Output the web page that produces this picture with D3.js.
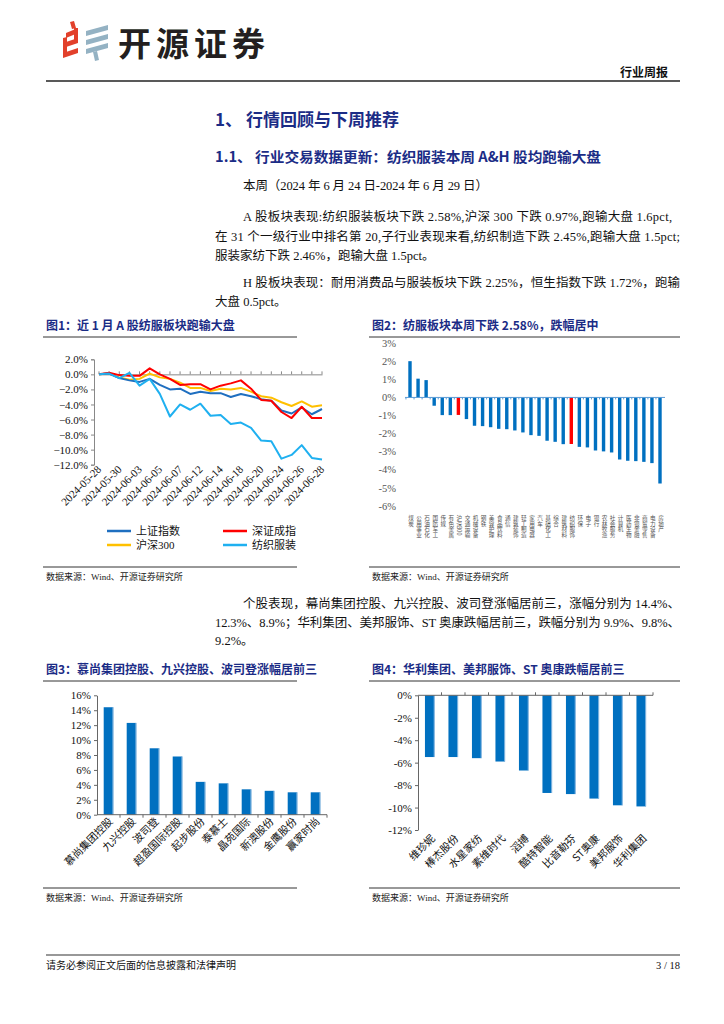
<!DOCTYPE html>
<html>
<head>
<meta charset="utf-8">
<script src="https://cdn.jsdelivr.net/npm/d3@7"></script>
<style>
  body { margin: 0; background: #fff; }
  svg { display: block; }
  .serif { font-family: "Liberation Serif", "Noto Sans CJK SC", serif; }
  .cjk { font-family: "Noto Sans CJK SC", sans-serif; }
</style>
</head>
<body>
<svg id="page" width="724" height="1024"></svg>
<script>
// ---- data ----
var dates = ["2024-05-28","2024-05-29","2024-05-30","2024-05-31","2024-06-03","2024-06-04","2024-06-05",
  "2024-06-06","2024-06-07","2024-06-11","2024-06-12","2024-06-13","2024-06-14","2024-06-17","2024-06-18",
  "2024-06-19","2024-06-20","2024-06-21","2024-06-24","2024-06-25","2024-06-26","2024-06-27","2024-06-28"];
var dateTicks = ["2024-05-28","2024-05-30","2024-06-03","2024-06-05","2024-06-07","2024-06-12",
  "2024-06-14","2024-06-18","2024-06-20","2024-06-24","2024-06-26","2024-06-28"];
var shIndex  = [0,0.1,-0.5,-0.8,-1.0,-0.6,-1.4,-2.0,-1.9,-2.6,-2.3,-2.5,-2.5,-3.0,-2.6,-2.9,-3.3,-3.5,-4.8,-5.2,-4.4,-5.3,-4.6];
var szIndex  = [0,0.2,-0.1,-0.2,-0.2,0.8,0.0,-0.6,-1.4,-1.3,-1.3,-2.0,-1.5,-1.2,-0.8,-1.9,-3.4,-3.5,-5.0,-5.8,-4.3,-5.8,-5.8];
var hs300    = [0,0.1,-0.4,-0.7,-0.6,0.1,-0.4,-0.6,-1.1,-1.8,-1.8,-2.2,-1.9,-2.0,-1.8,-2.3,-2.9,-3.1,-3.7,-4.2,-3.6,-4.3,-4.1];
var textile  = [0,0.1,-0.5,0.2,-1.5,-0.6,-2.6,-5.6,-4.0,-4.7,-3.9,-5.5,-5.4,-6.6,-6.4,-7.1,-8.8,-8.9,-11.2,-10.7,-9.4,-11.1,-11.3];
var lineNames = ["上证指数","深证成指","沪深300","纺织服装"];
var lineColors = ["#1f6fc0","#ff0000","#ffc000","#1fb0f0"];

var industries = ["煤炭","公用事业","石油石化","国防军工","传媒","有色金属","沪深300","交通运输","机械设备","钢铁",
  "美容护理","食品饮料","通信","建筑装饰","轻工制造","家用电器","汽车","基础化工","综合","建筑材料","纺织服饰",
  "环保","电子","银行","农林牧渔","社会服务","计算机","医药生物","非银金融","商贸零售","电力设备","房地产"];
var industryChg = [2.01,1.04,0.96,-0.46,-0.98,-0.98,-0.97,-1.2,-1.57,-1.59,-1.65,-1.74,-1.76,-1.83,-1.94,-2.09,
  -2.13,-2.4,-2.46,-2.59,-2.58,-2.74,-2.77,-2.94,-2.99,-3.05,-3.44,-3.51,-3.53,-3.57,-3.64,-4.77];
var highlight = ["沪深300","纺织服饰"];

var gainers = ["慕尚集团控股","九兴控股","波司登","超盈国际控股","起步股份","泰慕士","晶苑国际","新澳股份","金鹰股份","赢家时尚"];
var gainerChg = [14.4,12.3,8.9,7.8,4.4,4.2,3.4,3.2,3.0,3.0];
var losers = ["维珍妮","棒杰股份","水星家纺","素维时代","滔搏","酷特智能","比音勒芬","ST奥康","美邦服饰","华利集团"];
var loserChg = [-5.5,-5.5,-5.6,-5.9,-6.7,-8.7,-8.8,-9.2,-9.8,-9.9];

var svg = d3.select("#page");
var navy = "#1b2c86";
var barBlue = "#0070c0";

// ---- header ----
var logo = svg.append("g");
var red = "#e2402b", grey = "#94b2c3";
[[66,33,78,28],[63,43,78,38],[63,53,78,48]].forEach(function (s) {
  logo.append("polygon").attr("fill", red)
    .attr("points", [s[0],s[1], s[2],s[3], s[2],s[3]+5, s[0],s[1]+5].join(" "));
});
logo.append("polygon").attr("fill", red).attr("points", "74,28 78,28 78,43 74,43");
logo.append("polygon").attr("fill", red).attr("points", "63,38 67,37 67,53 63,53");
logo.append("polygon").attr("fill", red).attr("points", "70,22 74,21 76,28 72,29");
[[86,31,108,25],[86,40,108,34],[86,49,108,43]].forEach(function (s) {
  logo.append("polygon").attr("fill", grey)
    .attr("points", [s[0],s[1], s[2],s[3], s[2],s[3]+5, s[0],s[1]+5].join(" "));
});
logo.append("polygon").attr("fill", grey).attr("points", "93,52 97,51 99,60 95,61");
svg.append("text").attr("class", "cjk").attr("x", 118).attr("y", 56)
  .attr("font-size", 33).attr("font-weight", 700).attr("letter-spacing", 5).attr("fill", "#231f20")
  .text("开源证券");
svg.append("text").attr("class", "cjk").attr("x", 668).attr("y", 77).attr("text-anchor", "end")
  .attr("font-size", 12).attr("font-weight", 700).attr("fill", "#111").text("行业周报");
svg.append("line").attr("x1", 46).attr("x2", 680).attr("y1", 81).attr("y2", 81)
  .attr("stroke", "#222").attr("stroke-width", 1.5);

// ---- headings and body ----
svg.append("text").attr("class", "cjk").attr("x", 215).attr("y", 126).attr("font-size", 17)
  .attr("font-weight", 700).attr("fill", navy).text("1、 行情回顾与下周推荐");
svg.append("text").attr("class", "cjk").attr("x", 215).attr("y", 162).attr("font-size", 14)
  .attr("font-weight", 700).attr("fill", navy).attr("textLength", 386).attr("lengthAdjust", "spacingAndGlyphs")
  .text("1.1、 行业交易数据更新：纺织服装本周 A&H 股均跑输大盘");

function bodyLine(x, y, str, w) {
  var t = svg.append("text").attr("class", "serif").attr("x", x).attr("y", y)
    .attr("font-size", 12.5).attr("fill", "#111").text(str);
  if (w) t.attr("textLength", w).attr("lengthAdjust", "spacing");
}
bodyLine(243, 190, "本周（2024 年 6 月 24 日-2024 年 6 月 29 日）", 245);
bodyLine(243, 221, "A 股板块表现:纺织服装板块下跌 2.58%,沪深 300 下跌 0.97%,跑输大盘 1.6pct,", 429);
bodyLine(215, 241, "在 31 个一级行业中排名第 20,子行业表现来看,纺织制造下跌 2.45%,跑输大盘 1.5pct;", 465);
bodyLine(215, 260, "服装家纺下跌 2.46%，跑输大盘 1.5pct。");
bodyLine(243, 287, "H 股板块表现：耐用消费品与服装板块下跌 2.25%，恒生指数下跌 1.72%，跑输", 437);
bodyLine(215, 306, "大盘 0.5pct。");
bodyLine(243, 608, "个股表现，幕尚集团控股、九兴控股、波司登涨幅居前三，涨幅分别为 14.4%、", 437);
bodyLine(215, 627, "12.3%、8.9%；华利集团、美邦服饰、ST 奥康跌幅居前三，跌幅分别为 9.9%、9.8%、", 465);
bodyLine(215, 645, "9.2%。");

// ---- figure frames ----
function figTitle(x, y, str, x2) {
  svg.append("text").attr("class", "cjk").attr("x", x).attr("y", y).attr("font-size", 12)
    .attr("font-weight", 700).attr("fill", navy).text(str);
  svg.append("line").attr("x1", x - 3).attr("x2", x2).attr("y1", y + 7).attr("y2", y + 7)
    .attr("stroke", "#333").attr("stroke-width", 1);
}
function figSource(x, y, x2) {
  svg.append("line").attr("x1", x - 3).attr("x2", x2).attr("y1", y - 13).attr("y2", y - 13)
    .attr("stroke", "#333").attr("stroke-width", 1);
  svg.append("text").attr("class", "serif").attr("x", x).attr("y", y).attr("font-size", 9)
    .attr("fill", "#222").text("数据来源：Wind、开源证券研究所");
}
figTitle(46, 330, "图1：近 1 月 A 股纺服板块跑输大盘", 297);
figTitle(372, 330, "图2：纺服板块本周下跌 2.58%，跌幅居中", 680);
figTitle(46, 674, "图3：慕尚集团控股、九兴控股、波司登涨幅居前三", 297);
figTitle(372, 674, "图4：华利集团、美邦服饰、ST 奥康跌幅居前三", 680);
figSource(46, 580, 297);
figSource(372, 580, 680);
figSource(46, 901, 297);
figSource(372, 901, 680);

// ---- figure 1: lines ----
var x1 = d3.scalePoint().domain(dates).range([99, 322]);
var y1 = d3.scaleLinear().domain([-12, 2]).range([464.7, 359.3]);
var f1 = svg.append("g").attr("class", "serif");
f1.append("g").attr("transform", "translate(94,0)")
  .call(d3.axisLeft(y1).tickValues(d3.range(-12, 2.1, 2)).tickFormat(function (d) { return d3.format(".1f")(d) + "%"; }).tickSize(3))
  .call(function (g) {
    g.select(".domain").attr("stroke", "#888");
    g.selectAll(".tick line").attr("stroke", "#888");
    g.selectAll("text").attr("font-size", 11).attr("fill", "#111").attr("font-family", "Liberation Serif");
  });
f1.append("g").attr("transform", "translate(0," + y1(0) + ")")
  .call(d3.axisBottom(x1).tickValues([]).tickSizeOuter(0))
  .call(function (g) { g.select(".domain").attr("stroke", "#888"); });
f1.selectAll(".xtick").data(dates).enter().append("line")
  .attr("x1", function (d) { return x1(d); }).attr("x2", function (d) { return x1(d); })
  .attr("y1", y1(0)).attr("y2", y1(0) - 3).attr("stroke", "#888");
f1.selectAll(".xlab").data(dateTicks).enter().append("text")
  .attr("font-size", 11).attr("fill", "#111").attr("text-anchor", "end")
  .attr("transform", function (d) { return "translate(" + (x1(d) + 3) + ",470) rotate(-45)"; })
  .text(function (d) { return d; });
var series = [shIndex, szIndex, hs300, textile];
var drawOrder = [2, 0, 1, 3];
var line = d3.line().x(function (d, i) { return x1(dates[i]); }).y(function (d) { return y1(d); });
drawOrder.forEach(function (k) {
  f1.append("path").datum(series[k]).attr("d", line).attr("fill", "none")
    .attr("stroke", lineColors[k]).attr("stroke-width", 2).attr("stroke-linejoin", "round");
});
var legPos = [[107, 531], [223, 531], [107, 545], [223, 545]];
lineNames.forEach(function (n, k) {
  var p = legPos[k];
  f1.append("line").attr("x1", p[0]).attr("x2", p[0] + 24).attr("y1", p[1]).attr("y2", p[1])
    .attr("stroke", lineColors[k]).attr("stroke-width", 2.5);
  f1.append("text").attr("x", p[0] + 29).attr("y", p[1] + 4).attr("font-size", 11).attr("fill", "#111").text(n);
});

// ---- figure 2: industry bars ----
var x2 = d3.scalePoint().domain(industries).range([410, 660]);
var y2 = d3.scaleLinear().domain([-6, 3]).range([505.7, 343.3]);
var f2 = svg.append("g").attr("class", "serif");
f2.append("g").attr("transform", "translate(396,0)")
  .call(d3.axisLeft(y2).ticks(9).tickFormat(function (d) { return d + "%"; }).tickSize(0))
  .call(function (g) {
    g.select(".domain").remove();
    g.selectAll("text").attr("font-size", 10.5).attr("fill", "#555").attr("x", 0).attr("font-family", "Liberation Serif");
  });
f2.selectAll(".bar").data(industries).enter().append("rect")
  .attr("x", function (d) { return x2(d) - 1.7; })
  .attr("width", 3.4)
  .attr("y", function (d, i) { return y2(Math.max(0, industryChg[i])); })
  .attr("height", function (d, i) { return Math.abs(y2(industryChg[i]) - y2(0)); })
  .attr("fill", function (d) { return highlight.indexOf(d) >= 0 ? "#ff0000" : barBlue; });
f2.append("line").attr("x1", 405).attr("x2", 665).attr("y1", y2(0)).attr("y2", y2(0))
  .attr("stroke", "#5b9bd5").attr("stroke-width", 1);
f2.selectAll(".t2").data(industries).enter().append("line")
  .attr("x1", function (d) { return x2(d) - x2.step() / 2; }).attr("x2", function (d) { return x2(d) - x2.step() / 2; })
  .attr("y1", y2(0)).attr("y2", y2(0) + 2).attr("stroke", "#5b9bd5");
f2.selectAll(".lab2").data(industries).enter().append("text")
  .attr("class", "cjk")
  .attr("x", function (d) { return x2(d) + 1; }).attr("y", 515)
  .attr("font-size", 5.6).attr("fill", "#555")
  .style("writing-mode", "vertical-rl")
  .text(function (d) { return d; });

// ---- figure 3: gainers ----
var x3 = d3.scaleBand().domain(gainers).range([97, 327]);
var y3 = d3.scaleLinear().domain([0, 16]).range([814.7, 695.3]);
var f3 = svg.append("g").attr("class", "serif");
f3.append("g").attr("transform", "translate(97,0)")
  .call(d3.axisLeft(y3).ticks(8).tickFormat(function (d) { return d + "%"; }).tickSize(3).tickSizeOuter(0))
  .call(function (g) {
    g.select(".domain").attr("stroke", "#666");
    g.selectAll(".tick line").attr("stroke", "#666");
    g.selectAll("text").attr("font-size", 11).attr("fill", "#111").attr("font-family", "Liberation Serif");
  });
f3.selectAll(".bar").data(gainers).enter().append("rect")
  .attr("x", function (d) { return x3(d) + x3.bandwidth() / 2 - 4.8; })
  .attr("width", 9.6)
  .attr("y", function (d, i) { return y3(gainerChg[i]); })
  .attr("height", function (d, i) { return y3(0) - y3(gainerChg[i]); })
  .attr("fill", barBlue);
f3.selectAll(".hl").data(gainers).enter().append("rect")
  .attr("x", function (d) { return x3(d) + x3.bandwidth() / 2 + 4; })
  .attr("width", 0.9)
  .attr("y", function (d, i) { return y3(gainerChg[i]); })
  .attr("height", function (d, i) { return y3(0) - y3(gainerChg[i]); })
  .attr("fill", "#9dc3e6");
f3.append("line").attr("x1", 97).attr("x2", 327).attr("y1", y3(0)).attr("y2", y3(0)).attr("stroke", "#666");
f3.selectAll(".t3").data(gainers).enter().append("line")
  .attr("x1", function (d) { return x3(d) + x3.step(); }).attr("x2", function (d) { return x3(d) + x3.step(); })
  .attr("y1", y3(0)).attr("y2", y3(0) + 3).attr("stroke", "#666");
f3.selectAll(".lab3").data(gainers).enter().append("text")
  .attr("class", "cjk").attr("font-size", 10.5).attr("fill", "#111").attr("text-anchor", "end")
  .attr("transform", function (d) { return "translate(" + (x3(d) + x3.bandwidth() / 2 + 5) + ",822) rotate(-45)"; })
  .text(function (d) { return d; });

// ---- figure 4: losers ----
var x4 = d3.scaleBand().domain(losers).range([418, 653]);
var y4 = d3.scaleLinear().domain([-12, 0]).range([830, 695.3]);
var f4 = svg.append("g").attr("class", "serif");
f4.append("g").attr("transform", "translate(418,0)")
  .call(d3.axisLeft(y4).ticks(6).tickFormat(function (d) { return d + "%"; }).tickSize(3).tickSizeOuter(0))
  .call(function (g) {
    g.select(".domain").attr("stroke", "#666");
    g.selectAll(".tick line").attr("stroke", "#666");
    g.selectAll("text").attr("font-size", 11).attr("fill", "#111").attr("font-family", "Liberation Serif");
  });
f4.selectAll(".bar").data(losers).enter().append("rect")
  .attr("x", function (d) { return x4(d) + x4.bandwidth() / 2 - 4.8; })
  .attr("width", 9.6)
  .attr("y", y4(0))
  .attr("height", function (d, i) { return y4(loserChg[i]) - y4(0); })
  .attr("fill", barBlue);
f4.selectAll(".hl").data(losers).enter().append("rect")
  .attr("x", function (d) { return x4(d) + x4.bandwidth() / 2 + 4; })
  .attr("width", 0.9)
  .attr("y", y4(0))
  .attr("height", function (d, i) { return y4(loserChg[i]) - y4(0); })
  .attr("fill", "#9dc3e6");
f4.append("line").attr("x1", 418).attr("x2", 653).attr("y1", y4(0)).attr("y2", y4(0)).attr("stroke", "#666");
f4.selectAll(".t4").data(losers).enter().append("line")
  .attr("x1", function (d) { return x4(d) + x4.step(); }).attr("x2", function (d) { return x4(d) + x4.step(); })
  .attr("y1", y4(0)).attr("y2", y4(0) - 3).attr("stroke", "#666");
f4.selectAll(".lab4").data(losers).enter().append("text")
  .attr("class", "cjk").attr("font-size", 10.5).attr("fill", "#111").attr("text-anchor", "end")
  .attr("transform", function (d) { return "translate(" + (x4(d) + x4.bandwidth() / 2 + 6) + ",839) rotate(-45)"; })
  .text(function (d) { return d; });

// ---- footer ----
svg.append("line").attr("x1", 46).attr("x2", 680).attr("y1", 955).attr("y2", 955)
  .attr("stroke", "#333").attr("stroke-width", 1.2);
svg.append("text").attr("class", "serif").attr("x", 46).attr("y", 969).attr("font-size", 10)
  .attr("fill", "#111").text("请务必参阅正文后面的信息披露和法律声明");
svg.append("text").attr("class", "serif").attr("x", 680).attr("y", 969).attr("font-size", 10.5)
  .attr("text-anchor", "end").attr("fill", "#111").text("3 / 18");
</script>
</body>
</html>
